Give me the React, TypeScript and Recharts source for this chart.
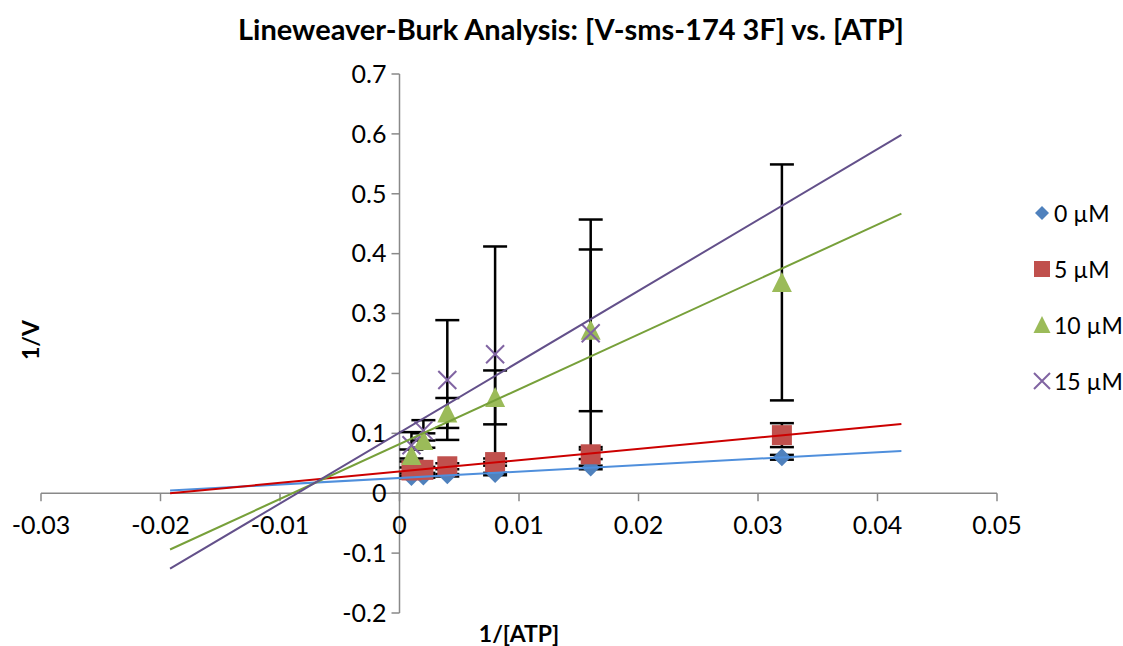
import React from 'react';
import { ComposedChart, Scatter, XAxis, YAxis, ErrorBar, ReferenceLine, ReferenceDot } from 'recharts';

// ---- data ----
const XS = [0.001, 0.002, 0.004, 0.008, 0.016, 0.032];
const Y0 = [0.027, 0.028, 0.030, 0.032, 0.043, 0.060];
const Y5 = [0.038, 0.039, 0.045, 0.052, 0.065, 0.097];
const Y10 = [0.063, 0.088, 0.134, 0.160, 0.272, 0.352];
const Y15: (number | null)[] = [0.080, 0.105, 0.189, 0.232, 0.267, null];
const E0 = [0.002, 0.002, 0.002, 0.002, 0.003, 0.004];
const E5 = [0.005, 0.005, 0.005, 0.006, 0.008, 0.020];
const E10 = [0.010, 0.012, 0.025, 0.045, 0.135, 0.197];
const E15: (number | null)[] = [0.022, 0.017, 0.100, 0.180, 0.190, null];
const SERIES_NAMES = ['0 µM', '5 µM', '10 µM', '15 µM'];
const X_TICKS = [-0.03, -0.02, -0.01, 0, 0.01, 0.02, 0.03, 0.04, 0.05];
const Y_TICKS = [-0.2, -0.1, 0, 0.1, 0.2, 0.3, 0.4, 0.5, 0.6, 0.7];
const TREND_FROM = -0.0192;
const TREND_TO = 0.042;

const TITLE = 'Lineweaver-Burk Analysis: [V-sms-174 3F] vs. [ATP]';
const X_TITLE = '1/[ATP]';
const Y_TITLE = '1/V';
const FONT = 'Lato, "Liberation Sans", sans-serif';

function build(ys: (number | null)[], es: (number | null)[]) {
  const out: { x: number; y: number; err: number }[] = [];
  XS.forEach((x, i) => {
    const y = ys[i];
    if (y !== null && y !== undefined) out.push({ x, y, err: es[i] ?? 0 });
  });
  return out;
}

function trend(pts: { x: number; y: number }[]) {
  const n = pts.length;
  const mx = pts.reduce((s, p) => s + p.x, 0) / n;
  const my = pts.reduce((s, p) => s + p.y, 0) / n;
  let sxy = 0, sxx = 0;
  pts.forEach(p => { sxy += (p.x - mx) * (p.y - my); sxx += (p.x - mx) ** 2; });
  const m = sxy / sxx;
  const b = my - m * mx;
  return [{ x: TREND_FROM, y: b + m * TREND_FROM }, { x: TREND_TO, y: b + m * TREND_TO }];
}

const MARKER_COLORS = ['#4F81BD', '#C0504D', '#9BBB59', '#8064A2'];
const LINE_COLORS = ['#4F8FDC', '#CC0000', '#77A03A', '#63508A'];

const Diamond = (s: number, c: string) => (p: any) => (
  <path d={`M${p.cx},${p.cy - s}L${p.cx + s},${p.cy}L${p.cx},${p.cy + s}L${p.cx - s},${p.cy}Z`} fill={c} />
);
const Square = (s: number, c: string) => (p: any) => (
  <rect x={p.cx - s} y={p.cy - s} width={2 * s} height={2 * s} fill={c} />
);
const Triangle = (s: number, c: string) => (p: any) => (
  <path d={`M${p.cx},${p.cy - s * 1.05}L${p.cx + s},${p.cy + s * 0.95}L${p.cx - s},${p.cy + s * 0.95}Z`} fill={c} />
);
const XMark = (s: number, c: string) => (p: any) => (
  <path d={`M${p.cx - s},${p.cy - s}L${p.cx + s},${p.cy + s}M${p.cx - s},${p.cy + s}L${p.cx + s},${p.cy - s}`} stroke={c} strokeWidth={2} fill="none" />
);
const SHAPES = [Diamond, Square, Triangle, XMark];
const SIZES = [9, 10, 10, 9];
const LEGEND_SIZES = [7, 8, 8.5, 8];

const Empty = () => <g />;

export default function App() {
  const datasets = [build(Y0, E0), build(Y5, E5), build(Y10, E10), build(Y15, E15)];
  const trends = datasets.map(trend);
  return (
    <div style={{ position: 'relative', width: 1123, height: 646, fontFamily: FONT, overflow: 'hidden' }}>
      <style>{'body{margin:0}'}</style>
      <ComposedChart width={1123} height={646} margin={{ top: 74, right: 126, bottom: 33, left: 41 }}>
        <XAxis type="number" dataKey="x" domain={[-0.03, 0.05]} hide allowDataOverflow />
        <YAxis type="number" dataKey="y" domain={[-0.2, 0.7]} hide allowDataOverflow />
        <ReferenceLine x={0} stroke="#898989" strokeWidth={1.5} />
        <ReferenceLine y={0} stroke="#898989" strokeWidth={1.5} />
        {X_TICKS.map(t => (
          <ReferenceDot key={'xt' + t} x={t} y={0} r={0} shape={(p: any) => (
            <g>
              <line x1={p.cx} x2={p.cx} y1={p.cy} y2={p.cy + 8} stroke="#898989" strokeWidth={1.5} />
              <text x={p.cx} y={p.cy + 32} dy="0.35em" textAnchor="middle" fontSize={25} fontFamily={FONT} fill="#000">{String(t)}</text>
            </g>
          )} />
        ))}
        {Y_TICKS.map(t => (
          <ReferenceDot key={'yt' + t} x={0} y={t} r={0} shape={(p: any) => (
            <g>
              <line x1={p.cx - 8} x2={p.cx} y1={p.cy} y2={p.cy} stroke="#898989" strokeWidth={1.5} />
              <text x={p.cx - 13} y={p.cy} dy="0.35em" textAnchor="end" fontSize={25} fontFamily={FONT} fill="#000">{String(t)}</text>
            </g>
          )} />
        ))}
        {datasets.map((d, i) => (
          <Scatter key={'s' + i} name={SERIES_NAMES[i]} data={d} isAnimationActive={false}
            shape={SHAPES[i](SIZES[i], MARKER_COLORS[i])}>
            <ErrorBar dataKey="err" direction="y" width={12} stroke="#000" strokeWidth={2.5} />
          </Scatter>
        ))}
        {trends.map((t, i) => (
          <Scatter key={'t' + i} data={t} isAnimationActive={false} shape={Empty}
            line={{ stroke: LINE_COLORS[i], strokeWidth: 2 }} />
        ))}
      </ComposedChart>
      <div style={{ position: 'absolute', left: 0, width: 1142, top: 12, textAlign: 'center', fontWeight: 700, fontSize: 29, lineHeight: '34px', whiteSpace: 'nowrap' }}>{TITLE}</div>
      <div style={{ position: 'absolute', left: 0, width: 1038, top: 619, textAlign: 'center', fontWeight: 700, fontSize: 23, lineHeight: '28px' }}>{X_TITLE}</div>
      <div style={{ position: 'absolute', left: -10, top: 326, width: 80, textAlign: 'center', fontWeight: 700, fontSize: 23, lineHeight: '28px', transform: 'rotate(-90deg)' }}>{Y_TITLE}</div>
      <div style={{ position: 'absolute', left: 1032, top: 185, whiteSpace: 'nowrap' }}>
        {SERIES_NAMES.map((n, i) => (
          <div key={n} style={{ display: 'flex', alignItems: 'center', height: 56, fontSize: 23 }}>
            <svg width={20} height={20} style={{ marginRight: 2, flexShrink: 0 }}>
              {SHAPES[i](LEGEND_SIZES[i], MARKER_COLORS[i])({ cx: 10, cy: 10 })}
            </svg>
            <span>{n}</span>
          </div>
        ))}
      </div>
    </div>
  );
}
